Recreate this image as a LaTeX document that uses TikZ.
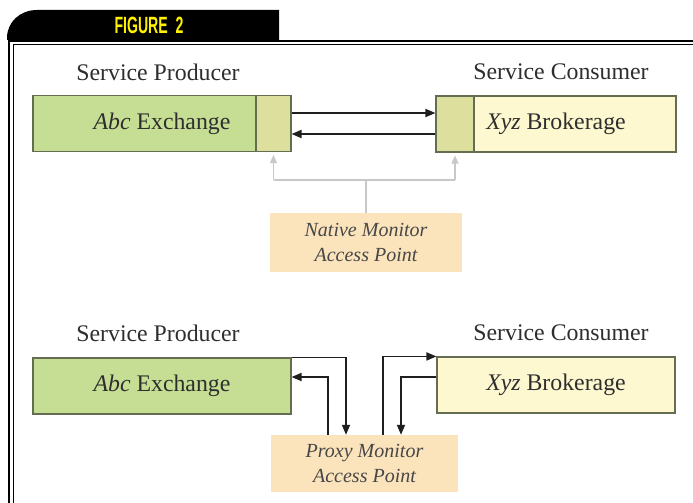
\documentclass[tikz,border=0pt]{standalone}
\usepackage{fontspec}
\setmainfont{Liberation Serif}
\newfontfamily\hdfont{Liberation Sans}
\usetikzlibrary{arrows.meta,calc}
\definecolor{grn}{HTML}{C6DE94}
\definecolor{olv}{HTML}{DCE09C}
\definecolor{ylw}{HTML}{FDF8CF}
\definecolor{pch}{HTML}{FBE3BC}
\definecolor{bdr}{HTML}{646C52}
\definecolor{gry}{HTML}{C8C8C8}
\definecolor{txt}{HTML}{2E2E2E}
\definecolor{hdy}{HTML}{FFF200}
\tikzset{
  box/.style={draw=bdr, line width=1.1pt, inner sep=0pt, minimum height=56pt, text=txt,
              font=\fontsize{23.8}{27}\selectfont},
  part/.style={draw=bdr, line width=1.1pt, fill=olv, inner sep=0pt, minimum height=56pt},
  lbl/.style={text=txt, inner sep=0pt, font=\fontsize{23.8}{27}\selectfont},
  mon/.style={fill=pch, inner sep=0pt, text=black!72, align=center,
              font=\fontsize{20}{25}\selectfont\itshape},
  arr/.style={draw=black!88, line width=1.7pt, -{Triangle[length=10pt,width=8pt]}},
  gline/.style={draw=gry, line width=1.2pt},
  garr/.style={gline, -{Triangle[length=8pt,width=7pt]}, shorten >=3pt},
}
\begin{document}
\begin{tikzpicture}[x=1pt,y=-1pt]
\useasboundingbox (0,0) rectangle (693,503);
\clip (0,0) rectangle (693,503);
\fill[white] (0,0) rectangle (693,503);

% header tab
\fill[black] (7,40) -- (7,38) .. controls (7,22) and (20,10) .. (37,10) -- (279,10) -- (279,40) -- cycle;
\node[text=hdy, inner sep=0pt] (hd) at (149,25.5) {\scalebox{0.6}[1]{\hdfont\bfseries\fontsize{23.5}{23.5}\selectfont FIGURE\ \ 2}};

% double frame
\draw[line width=2pt] (9,520) -- (9,41) -- (710,41);
\draw[line width=1.2pt] (13.5,520) -- (13.5,44.5) -- (710,44.5);

% ---------- top row ----------
\node[lbl] (lp1) at (158,72) {Service Producer};
\node[lbl] (lc1) at (561,72) {Service Consumer};

\node[box, fill=grn, minimum width=258pt] (pA) at (162,123.5) {\textit{Abc} Exchange};
\node[part, minimum width=35pt] (pAm) at (273.5,123.5) {};
\node[box, fill=ylw, minimum width=240pt] (cA) at (556,124) {\textit{Xyz} Brokerage};
\node[part, minimum width=38pt] (cAm) at (455,124) {};

\draw[arr] (pAm.east |- 0,113) -- (cAm.west |- 0,113);
\draw[arr] (cAm.west |- 0,134) -- (pAm.east |- 0,134);

\node[mon, minimum width=192pt, minimum height=59pt] (nA) at (366,242.5) {Native Monitor\\Access Point};
\coordinate (j) at (366,180);
\draw[gline] (nA.north) -- (j);
\draw[gline] (pAm.south |- j) -- (cAm.south |- j);
\draw[garr] (pAm.south |- j) -- (pAm.south);
\draw[garr] (cAm.south |- j) -- (cAm.south);

% ---------- bottom row ----------
\node[lbl] (lp2) at (158,333) {Service Producer};
\node[lbl] (lc2) at (561,333) {Service Consumer};

\node[box, fill=grn, minimum width=258pt] (pB) at (162,386) {\textit{Abc} Exchange};
\node[box, fill=ylw, minimum width=238pt] (cB) at (556,385) {\textit{Xyz} Brokerage};

\node[mon, minimum width=187pt, minimum height=57pt] (xB) at (364.5,463.5) {Proxy Monitor\\Access Point};

\draw[arr] (pB.north east) -| (346,0 |- xB.north);
\draw[arr] (328,0 |- xB.north) |- (pB.east |- 0,377);
\draw[arr] (383,0 |- xB.north) |- (cB.north west);
\draw[arr] (cB.west |- 0,377) -| (401,0 |- xB.north);
\end{tikzpicture}
\end{document}
